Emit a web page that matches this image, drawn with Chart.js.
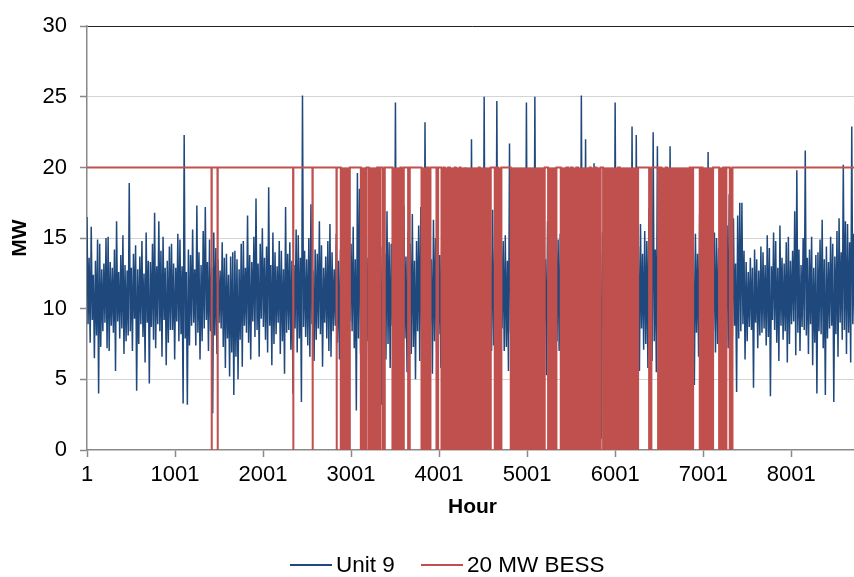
<!DOCTYPE html>
<html>
<head>
<meta charset="utf-8">
<script src="https://cdn.jsdelivr.net/npm/chart.js@4.4.1/dist/chart.umd.min.js"></script>
<style>
html, body { margin: 0; padding: 0; overflow: hidden; background: #fff; }
#wrap { position: relative; width: 854px; height: 577px; overflow: hidden; }
#chart { position: absolute; left: 0; top: 0; }
.key { position: absolute; top: 552px; font: 22.5px "Liberation Sans", Arial, sans-serif; line-height: 26px; color: #000; white-space: nowrap; }
.swatch { position: absolute; top: 564px; width: 42px; height: 1.5px; }
</style>
</head>
<body>
<div id="wrap">
<canvas id="chart" width="862" height="577"></canvas>
</div>
<script>
// hourly output, one reading kept every 12 h starting at hour 1 (20 readings = 240 h per row)
const stepHours = 12;
const unit9 = [
	16.5, 8.9, 13.6, 7.6, 15.8, 9.2, 12.4, 6.5, 13.4, 8.1, 14.9, 4.0, 14.6, 7.3, 12.8, 8.4, 13.2, 9.0, 15.0, 7.2,
	15.1, 7.0, 13.3, 8.8, 12.9, 8.3, 14.2, 5.6, 16.2, 9.1, 12.6, 7.9, 13.8, 8.6, 15.2, 6.8, 13.1, 7.7, 12.7, 8.1,
	18.9, 8.4, 12.9, 7.0, 13.9, 9.3, 14.5, 4.2, 12.8, 7.5, 13.7, 8.9, 14.8, 8.0, 12.5, 6.2, 15.4, 9.0, 13.4, 4.7,
	13.3, 8.7, 14.6, 7.8, 16.8, 7.2, 13.0, 8.9, 16.2, 8.4, 14.1, 6.6, 15.1, 9.2, 12.9, 6.0, 13.4, 7.6, 14.4, 8.5,
	14.6, 8.5, 13.2, 6.4, 12.9, 9.1, 15.3, 7.7, 14.9, 8.2, 13.0, 3.3, 22.3, 7.9, 12.6, 3.2, 14.2, 7.4, 13.8, 8.8,
	15.6, 9.0, 12.8, 7.4, 17.3, 8.3, 14.0, 6.4, 13.1, 7.7, 15.5, 8.6, 17.2, 9.2, 13.3, 7.0, 14.9, 8.4, 12.9, 2.6,
	15.4, 8.1, 14.3, 6.8, 13.5, 9.0, 12.7, 8.6, 14.7, 7.3, 13.6, 5.8, 13.9, 7.9, 12.4, 5.2, 13.7, 6.9, 14.0, 3.9,
	14.1, 6.6, 13.5, 5.0, 12.8, 7.8, 14.6, 5.9, 14.8, 8.8, 12.9, 8.3, 16.6, 7.6, 13.8, 6.4, 13.3, 9.1, 15.1, 8.0,
	17.8, 8.5, 13.2, 6.6, 14.6, 9.3, 15.7, 8.7, 13.6, 7.8, 14.4, 6.9, 18.6, 8.8, 13.1, 6.0, 15.4, 7.5, 14.0, 8.2,
	13.0, 9.0, 14.8, 6.8, 14.1, 7.7, 12.8, 5.4, 17.2, 8.3, 13.9, 8.5, 14.7, 7.1, 13.4, 4.0, 13.1, 8.6, 15.6, 6.9,
	15.2, 7.9, 13.6, 3.4, 25.1, 8.7, 14.1, 8.0, 13.5, 7.4, 15.0, 6.6, 17.4, 8.9, 12.7, 6.3, 14.2, 7.8, 13.9, 8.6,
	16.2, 8.2, 14.5, 5.9, 12.9, 9.0, 13.7, 7.9, 14.8, 7.0, 16.0, 6.6, 14.0, 8.4, 12.8, 8.8, 15.3, 7.6, 13.4, 6.4,
	14.2, 8.8, 16.1, 7.3, 15.4, 8.0, 13.3, 5.6, 13.0, 9.1, 14.6, 8.4, 15.8, 7.2, 13.5, 2.8, 19.6, 7.9, 18.5, 6.8,
	18.5, 8.1, 14.2, 5.4, 17.0, 7.7, 13.6, 3.3, 16.2, 8.5, 14.9, 6.8, 15.0, 7.4, 13.8, 5.6, 16.6, 8.2, 14.4, 3.2,
	15.3, 8.6, 13.9, 6.4, 16.9, 7.5, 14.7, 5.8, 14.6, 8.8, 13.2, 6.9, 24.6, 7.8, 14.3, 5.2, 16.0, 8.3, 15.1, 6.0,
	17.3, 7.9, 13.7, 5.5, 15.5, 8.7, 14.6, 6.8, 16.7, 7.3, 13.4, 5.0, 14.8, 8.4, 15.9, 6.3, 17.2, 7.6, 14.1, 5.9,
	23.2, 8.0, 14.4, 6.1, 15.6, 8.9, 13.5, 5.4, 16.3, 7.7, 15.0, 7.0, 14.9, 8.2, 13.8, 5.8, 16.8, 7.4, 14.6, 6.4,
	15.2, 8.5, 13.9, 5.1, 16.6, 7.8, 14.8, 6.7, 14.4, 8.6, 13.3, 5.6, 17.1, 7.2, 14.5, 6.2, 15.7, 8.3, 13.6, 4.9,
	18.0, 7.6, 14.2, 5.8, 22.0, 8.4, 13.7, 6.4, 15.0, 7.9, 14.9, 2.7, 16.4, 8.7, 13.5, 5.2, 25.0, 7.7, 14.7, 6.0,
	15.6, 8.8, 13.8, 7.0, 17.0, 7.4, 14.3, 5.4, 24.7, 8.1, 13.9, 6.2, 16.0, 8.6, 14.8, 7.0, 15.2, 7.3, 13.4, 5.6,
	21.7, 8.3, 14.0, 6.4, 16.8, 7.9, 15.1, 5.2, 15.4, 8.8, 13.6, 6.8, 17.3, 7.5, 14.4, 5.5, 24.6, 8.2, 13.7, 6.6,
	16.2, 7.8, 14.6, 5.8, 25.0, 8.5, 13.9, 6.1, 15.0, 7.6, 14.2, 7.2, 17.6, 8.9, 13.5, 5.3, 16.2, 7.4, 15.3, 6.5,
	14.8, 8.4, 13.6, 5.9, 16.5, 7.7, 14.9, 7.0, 15.3, 8.6, 13.8, 5.6, 17.0, 7.3, 14.1, 6.3, 15.6, 8.0, 14.5, 2.1,
	16.4, 8.7, 13.8, 6.0, 15.2, 7.5, 14.6, 5.4, 25.1, 8.3, 14.0, 6.6, 22.0, 7.9, 13.7, 5.8, 16.1, 8.5, 14.8, 6.9,
	20.3, 7.7, 14.3, 5.3, 16.6, 8.2, 13.9, 0.8, 15.4, 8.8, 14.7, 6.4, 17.2, 7.4, 13.6, 5.7, 14.9, 8.1, 15.5, 6.2,
	24.6, 8.4, 14.1, 5.9, 16.3, 7.6, 13.8, 6.7, 15.1, 8.9, 14.5, 5.2, 17.4, 7.8, 14.0, 6.0, 22.9, 8.2, 13.5, 6.5,
	22.3, 8.0, 14.4, 5.6, 16.0, 8.6, 13.9, 7.1, 15.5, 7.5, 14.8, 5.8, 17.1, 8.3, 13.6, 6.3, 22.5, 7.7, 14.2, 5.5,
	21.5, 8.5, 13.8, 3.0, 16.4, 7.9, 14.6, 6.6, 15.0, 8.7, 13.5, 5.7, 21.5, 7.6, 14.3, 6.2, 16.8, 8.1, 15.0, 5.0,
	15.7, 8.4, 14.0, 6.7, 16.2, 7.3, 13.7, 5.4, 19.3, 8.6, 14.9, 6.0, 17.0, 7.8, 14.2, 4.6, 15.3, 8.3, 13.9, 6.6,
	16.7, 7.7, 14.5, 5.8, 15.2, 8.8, 13.6, 6.4, 21.1, 7.9, 14.1, 5.3, 16.5, 8.4, 15.4, 6.9, 15.0, 7.5, 14.3, 6.1,
	15.6, 8.7, 13.4, 6.2, 14.8, 8.2, 15.9, 7.2, 18.1, 7.4, 13.9, 8.0, 16.4, 8.8, 13.2, 4.1, 16.6, 7.9, 17.5, 8.4,
	17.5, 8.9, 14.1, 6.4, 13.3, 7.7, 12.6, 8.7, 13.6, 8.5, 12.9, 4.4, 14.2, 9.0, 13.5, 7.2, 12.7, 8.1, 14.4, 8.3,
	14.0, 8.6, 13.1, 7.4, 15.2, 8.0, 14.3, 3.8, 13.0, 9.2, 15.4, 8.5, 14.8, 7.6, 12.9, 6.3, 15.9, 8.8, 13.6, 7.8,
	13.2, 8.4, 14.7, 6.2, 15.1, 7.5, 13.4, 8.9, 14.1, 9.1, 16.9, 6.7, 19.8, 8.3, 14.2, 7.0, 13.1, 8.7, 15.0, 8.5,
	21.2, 8.1, 13.6, 6.8, 14.2, 8.9, 15.1, 6.0, 12.9, 7.6, 13.8, 4.0, 14.0, 8.4, 14.9, 8.2, 16.3, 7.2, 13.5, 3.9,
	14.4, 7.9, 13.3, 8.6, 15.1, 8.8, 14.6, 3.4, 13.7, 8.2, 15.5, 6.6, 16.4, 9.0, 14.0, 7.8, 20.2, 8.5, 16.2, 6.8,
	16.0, 8.3, 14.7, 6.2, 22.9, 8.9, 15.3, 7.6, 15.8
];

// BESS sits at 20 MW except in these hour ranges where it drops to 0
const bessLevel = 20;
const bessOff = [
	[1415, 1420], [1483, 1488], [2342, 2347], [2562, 2567], [2835, 2840],
	[2884, 2987], [3112, 3176], [3202, 3297], [3309, 3313], [3327, 3331],
	[3358, 3384], [3471, 3562], [3574, 3600], [3649, 3668], [3801, 3865],
	[3877, 3903], [3971, 3990], [4028, 4055], [4066, 4104], [4123, 4180],
	[4191, 4236], [4244, 4297], [4304, 4451], [4463, 4588], [4633, 4652],
	[4671, 4709], [4815, 5201], [5239, 5334], [5383, 5447], [5466, 5497],
	[5516, 5561], [5580, 5712], [5724, 5769], [5788, 5837], [5864, 6035],
	[6054, 6262], [6387, 6413], [6489, 6508], [6527, 6576], [6591, 6849],
	[6868, 6887], [6962, 6981], [6993, 7114], [7182, 7228], [7247, 7265],
	[7303, 7334]
];

const seriesNames = ['Unit 9', '20 MW BESS'];
const seriesColors = ['#1F497D', '#C0504D'];
const xTicks = [1, 1001, 2001, 3001, 4001, 5001, 6001, 7001, 8001];
const hourMin = 1, hourMax = 8760;

const unitPoints = unit9.map((v, i) => ({ x: hourMin + i * stepHours, y: v }));
const bessPoints = [{ x: hourMin, y: bessLevel }];
bessOff.forEach(([a, b]) => {
	bessPoints.push({ x: a, y: bessLevel }, { x: a, y: 0 }, { x: b, y: 0 }, { x: b, y: bessLevel });
});
bessPoints.push({ x: hourMax, y: bessLevel });

const fontFamily = '"Liberation Sans", Arial, sans-serif';
const tickFont = { family: fontFamily, size: 22 };
const titleFont = { family: fontFamily, size: 21, weight: 'bold' };
const axisGrey = '#898989';

new Chart(document.getElementById('chart').getContext('2d'), {
	type: 'line',
	data: {
		datasets: [
			{ label: seriesNames[0], data: unitPoints, borderColor: seriesColors[0], borderWidth: 1.5, order: 1 },
			{ label: seriesNames[1], data: bessPoints, borderColor: seriesColors[1], backgroundColor: seriesColors[1],
			  borderWidth: 2, fill: { value: bessLevel }, order: 0 }
		]
	},
	options: {
		responsive: false,
		animation: false,
		devicePixelRatio: 1,
		elements: { point: { radius: 0 }, line: { tension: 0 } },
		layout: { padding: { left: 0, right: 4, top: 15, bottom: 57 } },
		plugins: { legend: { display: false }, tooltip: { enabled: false } },
		scales: {
			x: {
				type: 'linear', min: hourMin, max: hourMax,
				afterBuildTicks: s => { s.ticks = xTicks.map(v => ({ value: v })); },
				afterFit: s => { s.height = 70; },
				ticks: { callback: v => String(v), font: tickFont, color: '#000', padding: 5, maxRotation: 0, autoSkip: false },
				grid: { drawOnChartArea: false, tickLength: 7, tickColor: axisGrey, tickWidth: 1.5 },
				border: { color: axisGrey, width: 1.5 },
				title: { display: true, text: 'Hour', font: titleFont, color: '#000', padding: { top: 0, bottom: 0 } }
			},
			y: {
				min: 0, max: 30,
				afterFit: s => { s.width = 87; },
				ticks: { stepSize: 5, font: tickFont, color: '#000', padding: 13 },
				grid: {
					color: c => c.tick.value === 30 ? '#222' : (c.tick.value === 0 ? 'rgba(0,0,0,0)' : '#d4d4d4'),
					tickLength: 7, tickColor: axisGrey, tickWidth: 1.5
				},
				border: { color: axisGrey, width: 1.5 },
				title: { display: true, text: 'MW', font: titleFont, color: '#000', padding: { top: 8, bottom: 0 } }
			}
		}
	}
});

// legend below the plot
const wrap = document.getElementById('wrap');
const keyLeft = [290, 421];
seriesNames.forEach((name, i) => {
	const sw = document.createElement('div');
	sw.className = 'swatch';
	sw.style.left = keyLeft[i] + 'px';
	sw.style.background = seriesColors[i];
	wrap.appendChild(sw);
	const t = document.createElement('div');
	t.className = 'key';
	t.style.left = (keyLeft[i] + 46) + 'px';
	t.textContent = name;
	wrap.appendChild(t);
});
</script>
</body>
</html>
